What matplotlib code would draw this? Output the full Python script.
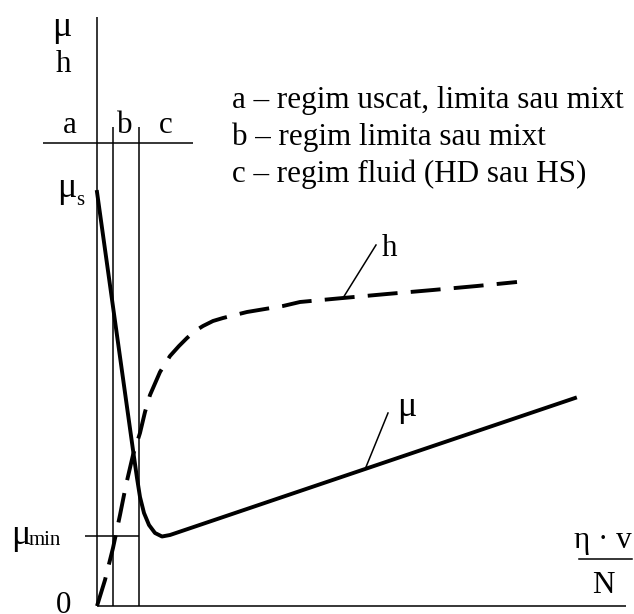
import matplotlib
matplotlib.use('Agg')
import matplotlib.pyplot as plt

# coordinates: x to the right of the vertical axis, y above the horizontal axis (px units)
mu_x = [0, 36, 40, 43, 47, 52, 58, 65, 73, 478]
mu_y = [414, 156, 128, 109, 93, 81, 73, 69.5, 71, 208]

h_x = [0, 8, 16, 23, 29, 36, 43, 48, 53, 63, 73, 82, 90, 98, 106, 116, 126, 138, 150, 186, 203, 246, 290, 336, 380, 420]
h_y = [0, 26, 58, 91, 121, 151, 173, 194, 211, 234, 250, 260, 268, 275, 280, 285, 288, 291, 294, 300, 304, 308, 312, 316, 320, 324]

x_b, x_c = 16, 42          # boundaries between regimes
y_regions = 463            # top line carrying the a/b/c labels
y_mu_min = 70

legend_lines = ["a – regim uscat, limita sau mixt",
                "b – regim limita sau mixt",
                "c – regim fluid (HD sau HS)"]

serif = 'Liberation Serif'
fs = 22.4
fs_greek = 26
fs_small = 15

fig = plt.figure(figsize=(6.34, 6.14), dpi=100)
ax = fig.add_axes([0, 0, 1, 1])
ax.set_xlim(-97, 537)
ax.set_ylim(-8, 606)
ax.axis('off')

thin = dict(color='black', lw=1.1, solid_capstyle='butt')
# axes
ax.plot([0, 0], [0, 589], **thin)
ax.plot([0, 529], [0, 0], **thin)
# regime boundaries
ax.plot([x_b, x_b], [0, 479], **thin)
ax.plot([x_c, x_c], [0, 479], **thin)
ax.plot([-54, 96], [y_regions, y_regions], **thin)
ax.plot([-12, x_c], [y_mu_min, y_mu_min], **thin)

# curves
ax.plot(mu_x, mu_y, color='black', lw=2.8, solid_joinstyle='round')
ax.plot(h_x, h_y, color='black', lw=2.8, dashes=(7.7, 3.4))

# leader lines
ax.plot([246, 279], [308, 361], color='black', lw=1.1)
ax.plot([269, 291], [139, 193], color='black', lw=1.1)

def txt(x, y, s, size=fs, **kw):
    kw.setdefault('ha', 'left')
    kw.setdefault('va', 'baseline')
    ax.text(x, y, s, fontsize=size, family=serif, **kw)

txt(-35, 570, "μ", size=fs_greek, ha='center')
txt(-34, 534, "h", ha='center')
txt(-27, 473, "a", ha='center')
txt(28, 473, "b", ha='center')
txt(69, 473, "c", ha='center')
txt(-40, 409, "μ", size=fs_greek)
txt(-21, 401, "s", size=fs_small)
txt(-86, 62, "μ", size=fs_greek)
txt(-68, 61, "min", size=fs_small)
txt(-33, -7, "0", ha='center')

txt(285, 350, "h")
txt(300, 190, "μ", size=fs_greek)

for i, line in enumerate(legend_lines):
    txt(135, 498 - 37 * i, line)

# fraction eta*v / N
txt(506, 58, "η · v", ha='center')
ax.plot([482, 535], [47, 47], color='black', lw=1.1)
txt(506, 13, "N", ha='center')

fig.savefig('out.png', dpi=100)
